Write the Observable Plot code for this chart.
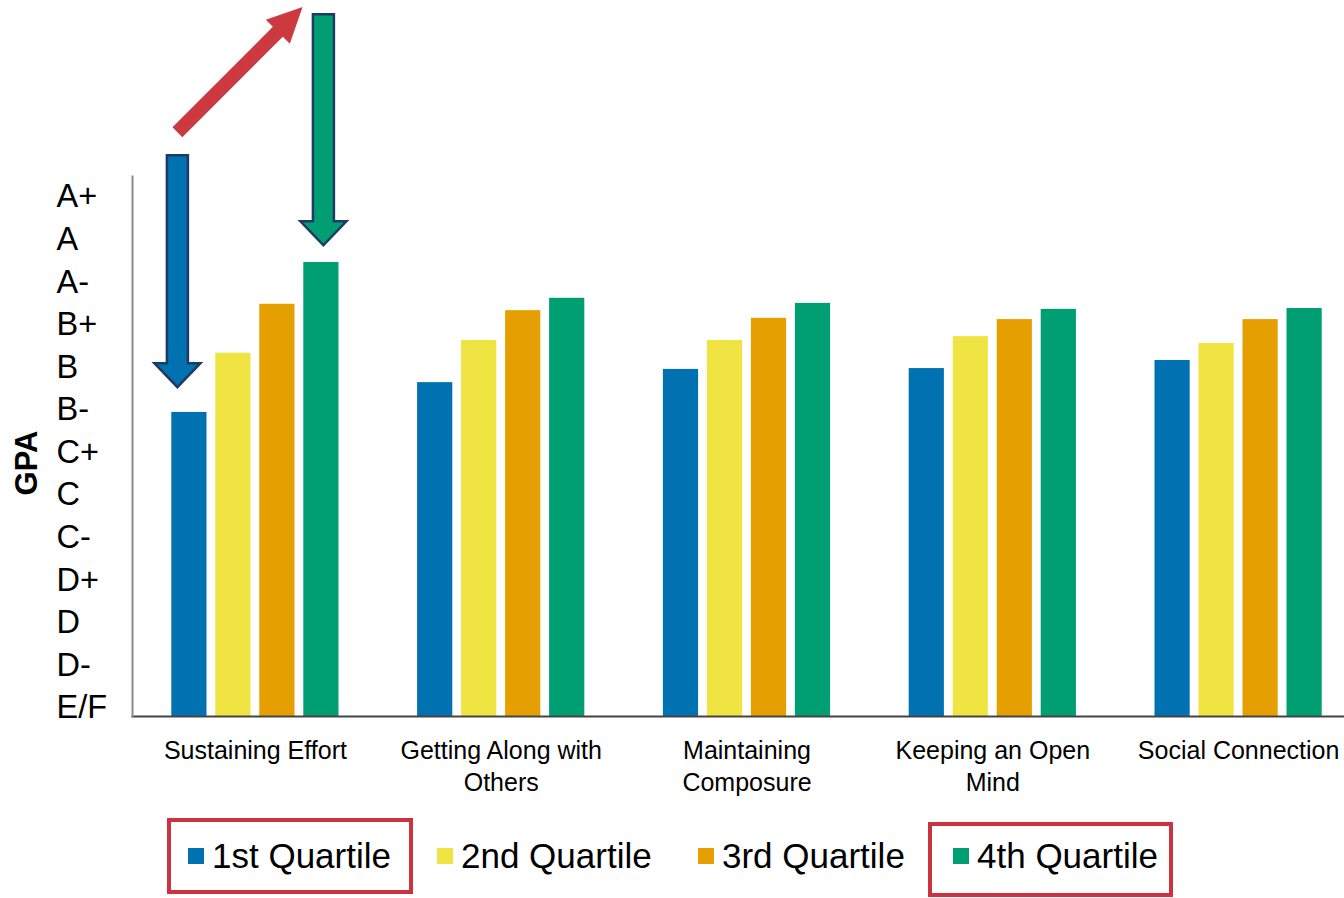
<!DOCTYPE html>
<html>
<head>
<meta charset="utf-8">
<script src="https://cdn.jsdelivr.net/npm/d3@7"></script>
<script src="https://cdn.jsdelivr.net/npm/@observablehq/plot@0.6"></script>
<style>
  html, body { margin: 0; padding: 0; background: #fff; overflow: hidden; }
  #wrap { position: relative; width: 1344px; height: 898px; font-family: "Liberation Sans", Arial, sans-serif; color: #000; }
  #chart { position: absolute; left: 0; top: 0; }
  #gpa { position: absolute; left: 27px; top: 463px; transform: translate(-50%, -50%) rotate(-90deg); font-weight: bold; font-size: 31px; white-space: nowrap; }
  .legend-item { position: absolute; top: 856px; transform: translateY(-50%); display: flex; align-items: center; font-size: 35px; white-space: nowrap; }
  .sw { width: 16px; height: 16px; margin-right: 8px; display: inline-block; }
  .box { position: absolute; border: 4px solid #CC3340; box-sizing: border-box; }
</style>
</head>
<body>
<div id="wrap">
  <div id="chart"></div>
  <div id="gpa">GPA</div>
</div>
<script>
// ---- Data ----
const categories = ["Sustaining Effort", "Getting Along with Others", "Maintaining Composure", "Keeping an Open Mind", "Social Connection"];
const categoryTickLabels = ["Sustaining Effort", "Getting Along with\nOthers", "Maintaining\nComposure", "Keeping an Open\nMind", "Social Connection"];
const quartiles = ["1st Quartile", "2nd Quartile", "3rd Quartile", "4th Quartile"];
const quartile1 = [7.14, 7.84, 8.15, 8.17, 8.36];
const quartile2 = [8.53, 8.83, 8.83, 8.92, 8.76];
const quartile3 = [9.68, 9.53, 9.35, 9.32, 9.32];
const quartile4 = [10.66, 9.82, 9.70, 9.56, 9.58];
const gradeLabels = ["E/F", "D-", "D", "D+", "C-", "C", "C+", "B-", "B", "B+", "A-", "A", "A+"];
const colors = ["#0072B2", "#F0E442", "#E69F00", "#009E73"];
const highlighted = ["1st Quartile", "4th Quartile"];

// annotation arrows (in the first group), tail positions in axis units
const blueArrow = [{category: "Sustaining Effort", quartile: "1st Quartile", tail: 13.18}];
const greenArrow = [{category: "Sustaining Effort", quartile: "4th Quartile", tail: 16.49}];
const redArrow = [{category: "Sustaining Effort", quartile: "1st Quartile", tail: 13.72}];

const seriesValues = [quartile1, quartile2, quartile3, quartile4];
const data = [];
categories.forEach((c, ci) => quartiles.forEach((q, qi) => data.push({category: c, quartile: q, value: seriesValues[qi][ci]})));

function blockArrow(shaftW, headW, headL) {
  return {
    draw(ctx, l) {
      const s = shaftW / 2, h = headW / 2, b = -(l - headL);
      ctx.moveTo(-s, 0);
      ctx.lineTo(-s, b);
      ctx.lineTo(-h, b);
      ctx.lineTo(0, -l);
      ctx.lineTo(h, b);
      ctx.lineTo(s, b);
      ctx.lineTo(s, 0);
      ctx.closePath();
    }
  };
}

const chart = Plot.plot({
  width: 1344,
  height: 812,
  marginTop: 176,
  marginBottom: 96,
  marginLeft: 132,
  marginRight: 0,
  style: {fontFamily: "'Liberation Sans', Arial, sans-serif", color: "#000", background: "transparent", overflow: "visible"},
  fx: {domain: categories, range: [132, 1361], paddingInner: 0, paddingOuter: 0, round: false},
  x: {domain: quartiles, paddingInner: 0.2, paddingOuter: 0.893, round: false, axis: null},
  y: {domain: [0, 12.68]},
  color: {domain: quartiles, range: colors},
  marks: [
    Plot.barY(data, {fx: "category", x: "quartile", y: "value", fill: "quartile"}),
    Plot.frame({anchor: "bottom", facet: "super", stroke: "#444", strokeWidth: 2}),
    Plot.frame({anchor: "left", facetAnchor: "left", stroke: "#8a8a8a", strokeWidth: 2}),
    Plot.axisY(d3.range(gradeLabels.length), {
      tickFormat: i => gradeLabels[i], tickSize: 0, tickPadding: 76, textAnchor: "start",
      dy: -8.5, fontSize: 32.5, label: null
    }),
    Plot.axisFx({
      anchor: "bottom", tickSize: 0, tickPadding: 19, fontSize: 25, lineHeight: 1.3, label: null,
      tickFormat: c => categoryTickLabels[categories.indexOf(c)]
    }),
    Plot.vector(blueArrow, {
      fx: "category", x: "quartile", y: "tail", length: 232, rotate: 180, anchor: "start",
      shape: blockArrow(21, 46, 24), fill: colors[0], stroke: "#1F3A63", strokeWidth: 2.5,
      strokeLinejoin: "miter", dx: -12
    }),
    Plot.vector(greenArrow, {
      fx: "category", x: "quartile", y: "tail", length: 231, rotate: 180, anchor: "start",
      shape: blockArrow(21, 46, 24), fill: colors[3], stroke: "#1F3A63", strokeWidth: 2.5,
      strokeLinejoin: "miter", dx: 2
    }),
    Plot.vector(redArrow, {
      fx: "category", x: "quartile", y: "tail", length: 177, rotate: 45, anchor: "start",
      shape: blockArrow(14, 34, 35), fill: "#CC3A40", stroke: "none", dx: -12
    })
  ]
});
document.getElementById("chart").appendChild(chart);

// ---- Legend ----
const wrap = document.getElementById("wrap");
const legendLeft = [188, 437, 698, 953];
quartiles.forEach((q, i) => {
  const item = document.createElement("div");
  item.className = "legend-item";
  item.style.left = legendLeft[i] + "px";
  const sw = document.createElement("span");
  sw.className = "sw";
  sw.style.background = colors[i];
  item.appendChild(sw);
  item.appendChild(document.createTextNode(q));
  wrap.appendChild(item);
});
const boxes = [{left: 167, top: 818, width: 246, height: 76}, {left: 928, top: 822, width: 245, height: 75}];
highlighted.forEach((q, i) => {
  const b = document.createElement("div");
  b.className = "box";
  Object.assign(b.style, {left: boxes[i].left + "px", top: boxes[i].top + "px", width: boxes[i].width + "px", height: boxes[i].height + "px"});
  wrap.appendChild(b);
});
</script>
</body>
</html>
